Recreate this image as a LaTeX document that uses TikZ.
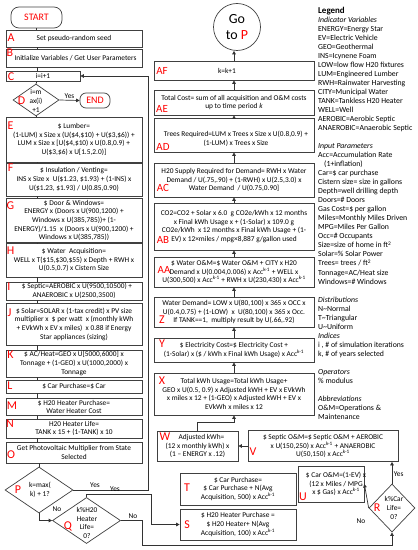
\documentclass[tikz,border=0pt]{standalone}
\usepackage{fontspec}
\setmainfont{Carlito}
\usetikzlibrary{shapes.geometric,arrows.meta}
\newcommand{\bxf}{\fontsize{7.4}{8.7}\selectfont}
\newcommand{\lgf}{\fontsize{7.8}{9.05}\selectfont}
\newcommand{\lbf}{\fontsize{12}{12}\selectfont}
\newcommand{\acc}{Acc\textsuperscript{k-1}}
\begin{document}
\begin{tikzpicture}[x=1bp,y=-1bp,
  box/.style={draw=black!75, line width=0.7bp, fill=white, align=center, inner sep=0pt, font=\bxf},
  lbox/.style={box, minimum width=136bp},
  cbox/.style={box, minimum width=160bp},
  lab/.style={text=red, font=\lbf, inner sep=0pt},
  dia/.style={diamond, draw=black!75, line width=0.7bp, fill=white, inner sep=0pt},
  txt/.style={font=\bxf, align=center, inner sep=0pt},
  ln/.style={draw=black!80, line width=0.7bp},
  arr/.style={ln, -{Triangle[length=3.5bp,width=3.5bp]}},
  term/.style={draw=black!75, line width=0.7bp, rounded corners=8bp, text=red, font=\fontsize{10}{10}\selectfont, inner sep=0pt},
]
\useasboundingbox (0,0) rectangle (417,550);
\coordinate (colx) at (37,0);
% ---------------- left column
\node[term, minimum width=51bp, minimum height=21bp] (start) at (36.5,17.5) {START};
\node[lbox, minimum height=17bp] (A) at (74,38.5) {Set pseudo-random seed};
\node[lbox, minimum height=18bp] (B) at (74,58) {\hspace{3bp}Initialize Variables / Get User Parameters};
\node[box, minimum width=74bp, minimum height=10bp] (C) at (43,76) {i=i+1};
\node[dia, minimum width=46bp, minimum height=32bp] (D) at (36,100) {};
\node[txt] (Dt) at (36,101) {i=m\\ax(i)\\+1};
\node[term, minimum width=30bp, minimum height=15bp, rounded corners=6bp] (END) at (95,100.5) {END};
\node[lbox, minimum height=45bp] (E) at (74,139.5) {\$ Lumber=\\(1-LUM) x Size x (U(\$4,\$10) + U(\$3,\$6)) +\\LUM x Size x [U(\$4,\$10) x U(0.8,0.9) +\\U(\$3,\$6) x U[1.5,2.0)]};
\node[lbox, minimum height=33bp] (F) at (74,179.5) {\$ Insulation / Venting=\\INS x Size x~~U(\$1.23, \$1.93) + (1-INS) x\\U(\$1.23, \$1.93) / U(0.85,0.90)};
\node[lbox, minimum height=44bp] (G) at (74,220.5) {\$ Door \& Windows=\\ENERGY x (Doors x U(900,1200) +\\Windows x U(385,785))+ (1-\\ENERGY)/1.15~~x (Doors x U(900,1200) +\\Windows x U(385,785))};
\node[lbox, minimum height=34bp] (H) at (74,260) {\$ Water~~Acquisition=\\WELL x T(\$15,\$30,\$55) x Depth + RWH x\\U(0.5,0.7) x Cistern Size};
\node[lbox, minimum height=18bp] (I) at (74,291) {\hspace{6bp}\$ Septic=AEROBIC x U(9500,10500) +\\ANAEROBIC x U(2500,3500)};
\node[lbox, minimum height=42bp] (J) at (74,324) {\$ Solar=SOLAR x (1-tax credit) x PV size\\multiplier x~~\$ per watt~~x (monthly kWh\\+ EVkWh x EV x miles)~~x 0.88 if Energy\\Star appliances (sizing)};
\node[lbox, minimum height=27bp] (K) at (74,363.5) {\$ AC/Heat=GEO x U[5000,6000] x\\Tonnage + (1-GEO) x U(1000,2000) x\\Tonnage};
\node[lbox, minimum height=13bp] (L) at (74,386.5) {\$ Car Purchase=\$ Car};
\node[lbox, minimum height=17bp] (M) at (74,407) {\$ H20 Heater Purchase=\\Water Heater Cost};
\node[lbox, minimum height=19bp] (N) at (74,428.5) {H20 Heater Life=\\TANK x 15 + (1-TANK) x 10};
\node[lbox, minimum height=21bp] (O) at (74,452.5) {Get Photovoltaic Multiplier from State\\Selected};
\node[dia, minimum width=68bp, minimum height=46bp] (P) at (39,490) {};
\node[txt] (Pt) at (40,490) {k=max(\\k) + 1?};
\node[dia, minimum width=68bp, minimum height=46bp] (Q) at (86.5,520.5) {};
\node[txt] (Qt) at (87,523) {k\%H20\\Heater\\Life=\\0?};
% left labels
\node[lab] (lA) at (11,38) {A};
\node[lab] (lB) at (10,53) {B};
\node[lab] (lC) at (11,76.5) {C};
\node[lab] (lD) at (21.5,101) {D};
\node[lab] (lE) at (10.5,126) {E};
\node[lab] (lF) at (10.5,168) {F};
\node[lab] (lG) at (10.5,206) {G};
\node[lab] (lH) at (10.5,251) {H};
\node[lab] (lI) at (9,287) {I};
\node[lab] (lJ) at (9.5,313) {J};
\node[lab] (lK) at (10.5,355) {K};
\node[lab] (lL) at (10,386) {L};
\node[lab] (lM) at (12,406) {M};
\node[lab] (lN) at (10,424) {N};
\node[lab] (lO) at (11,455) {O};
\node[lab] (lP) at (18,490) {P};
\node[lab] (lQ) at (68,526) {Q};
% ---------------- central column
\node[circle, draw=black!75, line width=0.7bp, minimum size=47bp, inner sep=0pt, align=center, font=\fontsize{14}{16}\selectfont] (goto) at (237,27) {Go\\to {\color{red}P}};
\node[cbox, minimum height=19bp] (AF) at (234,70.5) {k=k+1\hspace{14bp}};
\node[cbox, minimum height=25bp] (AE) at (234,102.5) {Total Cost= sum of all acquisition and O\&M costs\\up to time period \textit{k}};
\node[cbox, minimum height=34bp] (AD) at (234,135) {};
\node[txt] (ADt) at (236,139) {Trees Required=LUM x Trees x Size x U(0.8,0.9) +\\(1-LUM) x Trees x Size};
\node[cbox, minimum height=34bp] (AC) at (234,180) {H20 Supply Required for Demand= RWH x Water\\Demand / U(.75,.90) + (1-RWH) x U(2.5,3.0) x\\Water Demand~~/ U(0.75,0.90]};
\node[cbox, minimum height=47bp] (AB) at (234,226.5) {CO2=CO2 + Solar x 6.0~~g CO2e/kWh x 12 months\\x Final kWh Usage x + (1-Solar) x 109.0 g\\CO2e/kWh~~x 12 months x Final kWh Usage + (1-\\EV) x 12×miles / mpg×8,887 g/gallon used};
\node[cbox, minimum height=30bp] (AA) at (234,272) {\$ Water O\&M=\$ Water O\&M + CITY x H20\\Demand x U(0.004,0.006) x \acc{} + WELL x\\U(300,500) x \acc{} + RWH x U(230,430) x \acc};
\node[cbox, minimum height=30bp] (Z) at (234,312) {Water Demand= LOW x U(80,100) x 365 x OCC x\\U(0.4,0.75) + (1-LOW)~~x~~U(80,100) x 365 x Occ.\\If TANK==1,~~multiply result by U(.66,.92)};
\node[cbox, minimum height=24bp] (Y) at (234,350) {\$ Electricity Cost=\$ Electricity Cost +\\(1-Solar) x (\$ / kWh x Final kWh Usage) x \acc};
\node[cbox, minimum height=42bp] (X) at (234,394) {Total kWh Usage=Total kWh Usage+\\GEO x U(0.5, 0.9) x Adjusted kWH + EV x EVkWh\\x miles x 12 + (1-GEO) x Adjusted kWH + EV x\\EVkWh x miles x 12};
\node[box, minimum width=81bp, minimum height=30bp] (W) at (197.5,446) {\hspace{8bp}Adjusted kWh=\\(12 x monthly kWh) x\\(1 – ENERGY x .12)};
\node[box, minimum width=150bp, minimum height=31bp] (V) at (323,446) {\$ Septic O\&M=\$ Septic O\&M + AEROBIC\\x U(150,250) x \acc{} + ANAEROBIC\\U(50,150) x \acc};
\node[box, minimum width=116bp, minimum height=32bp] (T) at (238,489) {\$ Car Purchase=\\\$ Car Purchase + N(Avg\\Acquisition, 500) x \acc};
\node[box, minimum width=116bp, minimum height=31bp] (S) at (238,524.5) {\$ H20 Heater Purchase =\\\$ H20 Heater+ N(Avg\\Acquisition, 100) x \acc};
\node[box, minimum width=66bp, minimum height=36bp] (U) at (331,484) {};
\node[txt] (Ut) at (336,484) {\$ Car O\&M=(1-EV) x\\(12 x Miles / MPG\\x \$ Gas) x \acc};
\node[dia, minimum width=46bp, minimum height=48bp] (R) at (392,508) {};
\node[txt] (Rt) at (394,508) {k\%Car\\Life=\\0?};
% central labels
\node[lab, font=\fontsize{11}{11}\selectfont] (lAF) at (162,71) {AF};
\node[lab, font=\fontsize{11}{11}\selectfont] (lAE) at (162,109) {AE};
\node[lab, font=\fontsize{11}{11}\selectfont] (lAD) at (163,147) {AD};
\node[lab, font=\fontsize{11}{11}\selectfont] (lAC) at (163,188) {AC};
\node[lab, font=\fontsize{11}{11}\selectfont] (lAB) at (163,240) {AB};
\node[lab, font=\fontsize{11}{11}\selectfont] (lAA) at (164,270) {AA};
\node[lab] (lZ) at (162,320) {Z};
\node[lab] (lY) at (162,344) {Y};
\node[lab] (lX) at (162,381) {X};
\node[lab] (lW) at (165,437) {W};
\node[lab] (lV) at (253,452) {V};
\node[lab] (lT) at (187,488) {T};
\node[lab] (lS) at (187,525) {S};
\node[lab] (lU) at (303,497) {U};
\node[lab] (lR) at (377,508) {R};
% ---------------- legend
\node[anchor=north west, align=left, inner sep=0pt, font=\lgf] (legend) at (318,7) {%
{\bfseries\fontsize{9}{10}\selectfont Legend}\\
\textit{Indicator Variables}\\
ENERGY=Energy Star\\
EV=Electric Vehicle\\
GEO=Geothermal\\
INS=Icynene Foam\\
LOW=low flow H20 fixtures\\
LUM=Engineered Lumber\\
RWH=Rainwater Harvesting\\
CITY=Municipal Water\\
TANK=Tankless H20 Heater\\
WELL=Well\\
AEROBIC=Aerobic Septic\\
ANAEROBIC=Anaerobic Septic\\[9.05bp]
\textit{Input Parameters}\\
Acc=Accumulation Rate\\
\hspace{6bp}(1+inflation)\\
Car=\$ car purchase\\
Cistern size= size in gallons\\
Depth=well drilling depth\\
Doors=\# Doors\\
Gas Cost=\$ per gallon\\
Miles=Monthly Miles Driven\\
MPG=Miles Per Gallon\\
Occ=\# Occupants\\
Size=size of home in ft\textsuperscript{2}\\
Solar=\% Solar Power\\
Trees= trees / ft\textsuperscript{2}\\
Tonnage=AC/Heat size\\
Windows=\# Windows\\[9.05bp]
\textit{Distributions}\\
N\textasciitilde Normal\\
T\textasciitilde Triangular\\
U\textasciitilde Uniform\\
\textit{Indices}\\
i , \# of simulation iterations\\
k, \# of years selected\\[9.05bp]
\textit{Operators}\\
\% modulus\\[9.05bp]
\textit{Abbreviations}\\
O\&M=Operations \&\\
Maintenance};
% ---------------- connectors
\draw[ln] (start.south) -- (A.north -| start.south);
\draw[ln] (A.south -| colx) -- (B.north -| colx);
\draw[ln] (B.south -| colx) -- (C.north -| colx);
\draw[ln] (C.south -| colx) -- (D.north);
\draw[arr] (D.east) -- node[above, font=\bxf, inner sep=1bp] (yD) {Yes} (END.west);
\draw[ln] (D.south) -- (E.north -| D.south);
\draw[ln] (E.south -| colx) -- (F.north -| colx);
\draw[ln] (F.south -| colx) -- (G.north -| colx);
\draw[ln] (G.south -| colx) -- (H.north -| colx);
\draw[ln] (H.south -| colx) -- (I.north -| colx);
\draw[ln] (I.south -| colx) -- (J.north -| colx);
\draw[ln] (J.south -| colx) -- (K.north -| colx);
\draw[ln] (K.south -| colx) -- (L.north -| colx);
\draw[ln] (L.south -| colx) -- (M.north -| colx);
\draw[ln] (M.south -| colx) -- (N.north -| colx);
\draw[ln] (N.south -| colx) -- (O.north -| colx);
\draw[ln] (O.south -| P.north) -- (P.north);
\coordinate (ret) at (148,490);
\draw[arr] (P.east) -- (ret) |- (C.east);
\node[font=\bxf] (yP) at (95,485) {Yes};
\draw[arr] (P.south) |- (Q.west);
\node[font=\bxf] (nP) at (57,509) {No};
\coordinate (qy) at (151,494);
\draw[arr] (Q.north) -- (Q.north |- qy) -- (qy) |- (S.west);
\node[font=\bxf] (yQ) at (115,489) {Yes};
\coordinate (qn) at (142,545);
\draw[arr] (Q.east) -| (qn) -| (R.south);
\node[font=\bxf] (nQ) at (133,516) {No};
\draw[arr] (R.north) -- node[right, font=\bxf, inner sep=1.5bp, pos=0.45] (yR) {Yes} (R.north |- V.south);
\draw[arr] (R.west) -- (U.east);
\node[font=\bxf] (nR) at (361,521) {No};
\draw[arr] (V.west) -- (W.east);
\draw[arr] (W.north) -- ++(0,-8) -| (X.south);
\draw[arr] (X.north) -- (Y.south);
\draw[arr] (Y.north) -- (Z.south);
\draw[arr] (Z.north) -- (AA.south);
\draw[arr] (AA.north) -- (AB.south);
\draw[arr] (AB.north) -- (AC.south);
\draw[arr] (AC.north) -- (AD.south);
\draw[arr] (AD.north) -- (AE.south);
\draw[arr] (AE.north) -- (AF.south);
\draw[arr] (AF.north) -- (goto.south -| AF.north);
\end{tikzpicture}
\end{document}
